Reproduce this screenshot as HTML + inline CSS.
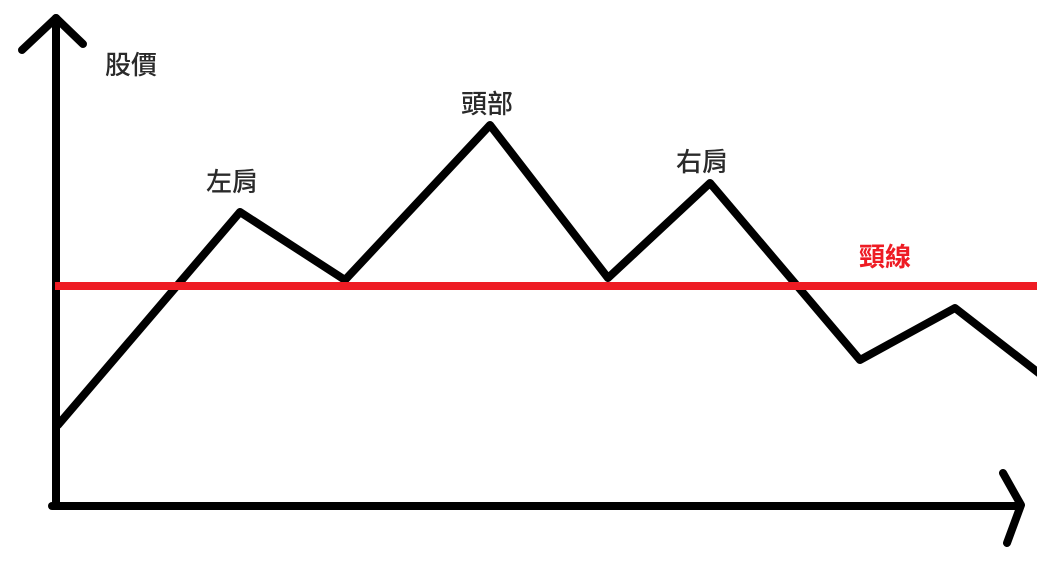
<!DOCTYPE html>
<html><head><meta charset="utf-8"><style>
html,body{margin:0;padding:0;background:#fff;}
svg{display:block}
text{font-family:"Liberation Sans","Noto Sans CJK TC",sans-serif;font-size:26px;fill:#2a2a2a;font-weight:500;}
</style></head><body>
<svg width="1037" height="565" viewBox="0 0 1037 565">
<g stroke="#000" stroke-width="8" stroke-linecap="round" stroke-linejoin="round" fill="none">
<line x1="56" y1="18" x2="56" y2="506"/>
<polyline points="22,50 56,18 83,44"/>
<line x1="52" y1="506" x2="1020" y2="506"/>
<polyline points="1003,473 1021,505 1007,543"/>
<polyline points="58,425 240,212 345,280 490,125 608,278 710,183 860,360 955,308 1040,374"/>
</g>
<line x1="55" y1="286" x2="1037" y2="286" stroke="#ee1c24" stroke-width="8"/>
<text x="105" y="74">股價</text>
<text x="206" y="191">左肩</text>
<text x="461" y="113">頭部</text>
<text x="676" y="171">右肩</text>
<text x="859" y="266" style="fill:#ee1c24;font-weight:bold">頸線</text>
</svg>
</body></html>
